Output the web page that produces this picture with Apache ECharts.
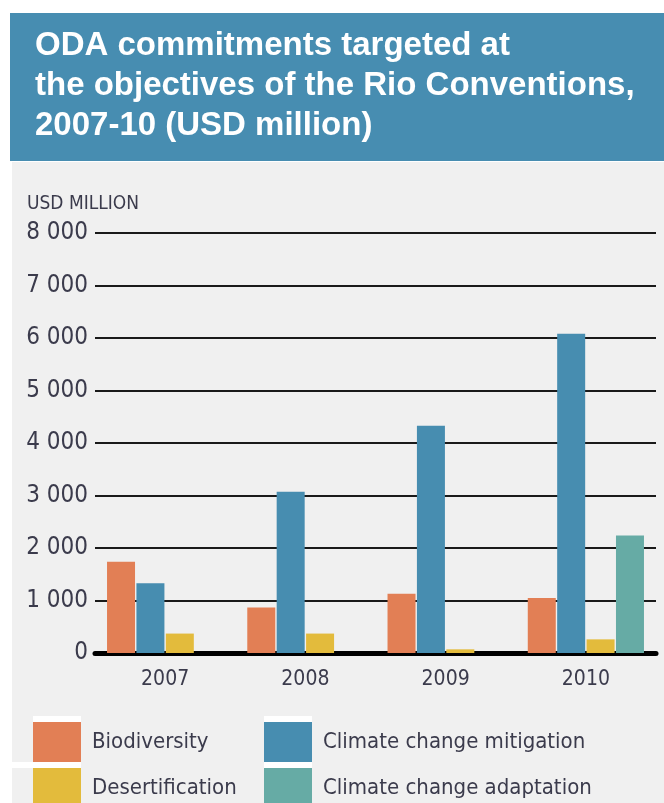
<!DOCTYPE html>
<html>
<head>
<meta charset="utf-8">
<script src="https://cdn.jsdelivr.net/npm/echarts@6/dist/echarts.min.js"></script>
<style>
  html, body { margin: 0; padding: 0; background: #ffffff; }
  #chart { width: 664px; height: 803px; }
</style>
</head>
<body>
<div id="chart"></div>
<script>
// Years on the category axis
const years = ['2007', '2008', '2009', '2010'];

// ODA commitments per Rio objective, USD million
const biodiversity    = [1740, 865, 1130, 1050];
const mitigation      = [1330, 3070, 4330, 6080];
const desertification = [370, 370, 70, 260];
const adaptation      = [null, null, null, 2240];

// Value-axis tick labels (0 .. 8 000 in steps of 1 000)
const yTickLabels = ['0', '1 000', '2 000', '3 000', '4 000', '5 000', '6 000', '7 000', '8 000'];

const seriesNames = ['Biodiversity', 'Climate change mitigation', 'Desertification', 'Climate change adaptation'];
const seriesColors = ['#e27f55', '#478db0', '#e3bb3c', '#66aba5'];

const narrow = "'DejaVu Sans Condensed', 'Liberation Sans Narrow', sans-serif";
const textColor = '#3b3b4c';

const chart = echarts.init(document.getElementById('chart'), null, { renderer: 'canvas' });

const seriesData = [biodiversity, mitigation, desertification, adaptation];

// one legend block per swatch, laid out in two columns
const legendSlots = [
  { name: seriesNames[0], left: 33, top: 722 },
  { name: seriesNames[2], left: 33, top: 768 },
  { name: seriesNames[1], left: 264, top: 722 },
  { name: seriesNames[3], left: 264, top: 768 }
];

chart.setOption({
  animation: false,
  backgroundColor: '#ffffff',
  title: [
    {
      text: 'ODA commitments targeted at\nthe objectives of the Rio Conventions,\n2007-10 (USD million)',
      left: 35,
      top: 26,
      padding: 0,
      textStyle: {
        fontFamily: "'Liberation Sans', Arial, sans-serif",
        fontWeight: 'bold',
        fontSize: 33,
        lineHeight: 40,
        color: '#ffffff'
      }
    },
    {
      text: 'USD MILLION',
      left: 27,
      top: 193,
      padding: 0,
      textStyle: {
        fontFamily: narrow,
        fontWeight: 'normal',
        fontSize: 19,
        lineHeight: 22,
        color: textColor
      }
    }
  ],
  graphic: [
    // panel backgrounds
    { type: 'rect', z: -100, shape: { x: 12, y: 162, width: 652, height: 641 }, style: { fill: '#f0f0f0' } },
    { type: 'rect', z: -99, shape: { x: 10, y: 13, width: 654, height: 148 }, style: { fill: '#478db1' } },
    // white separators above the legend swatches
    { type: 'rect', z: -98, shape: { x: 33, y: 716, width: 48, height: 6 }, style: { fill: '#ffffff' } },
    { type: 'rect', z: -98, shape: { x: 0, y: 762, width: 81, height: 6 }, style: { fill: '#ffffff' } },
    { type: 'rect', z: -98, shape: { x: 264, y: 716, width: 48, height: 6 }, style: { fill: '#ffffff' } },
    { type: 'rect', z: -98, shape: { x: 264, y: 762, width: 48, height: 6 }, style: { fill: '#ffffff' } }
  ],
  legend: legendSlots.map(s => ({
    data: [s.name],
    left: s.left,
    top: s.top,
    padding: 0,
    itemWidth: 48,
    itemHeight: 40,
    icon: 'rect',
    selectedMode: false,
    textStyle: { fontFamily: narrow, fontSize: 22, color: textColor, padding: [0, 0, 0, 6] }
  })),
  grid: { left: 95, right: 8, top: 233, height: 420, containLabel: false },
  xAxis: {
    type: 'category',
    data: years,
    axisTick: { show: false },
    axisLine: { show: true, lineStyle: { color: '#000000', width: 5 } },
    axisLabel: { fontFamily: narrow, fontSize: 21, color: textColor, margin: 16 },
    splitLine: { show: false }
  },
  yAxis: {
    type: 'value',
    min: 0,
    max: 8000,
    interval: 1000,
    axisLine: { show: false },
    axisTick: { show: false },
    axisLabel: {
      fontFamily: narrow,
      fontSize: 24,
      color: textColor,
      margin: 7,
      formatter: v => yTickLabels[Math.round(v / 1000)]
    },
    splitLine: { show: true, lineStyle: { color: '#1a1a1a', width: 2 } }
  },
  series: seriesNames.map((name, i) => ({
    name: name,
    type: 'bar',
    data: seriesData[i],
    barWidth: 28,
    barGap: '5%',
    itemStyle: { color: seriesColors[i] },
    emphasis: { disabled: true }
  }))
});
</script>
</body>
</html>
